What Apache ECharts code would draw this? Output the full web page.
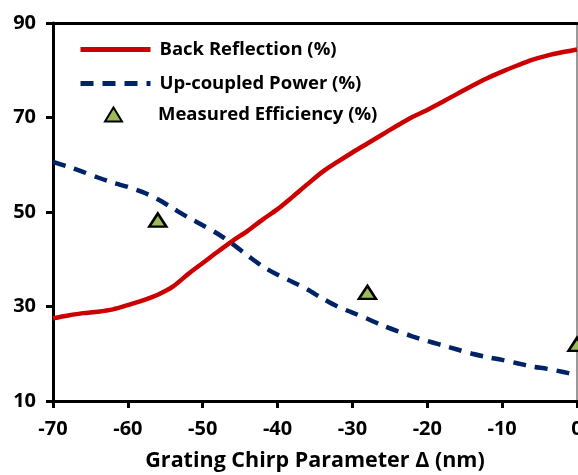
<!DOCTYPE html>
<html>
<head>
<meta charset="utf-8">
<script src="https://cdn.jsdelivr.net/npm/echarts@6/dist/echarts.min.js"></script>
<style>
html,body{margin:0;padding:0;background:#fff;}
#c{width:578px;height:475px;}
</style>
</head>
<body>
<div id="c"></div>
<script>
var chirp = [-70,-68,-66,-64,-62,-60,-58,-56,-54,-52,-50,-48,-46,-44,-42,-40,-38,-36,-34,-32,-30,-28,-26,-24,-22,-20,-18,-16,-14,-12,-10,-8,-6,-4,-2,0];
var backReflection = [27.5,28.1,28.6,28.9,29.4,30.3,31.3,32.5,34.2,36.8,39.2,41.6,43.9,46.0,48.4,50.6,53.2,55.9,58.5,60.6,62.6,64.5,66.4,68.3,70.1,71.6,73.3,75.0,76.7,78.3,79.7,81.0,82.2,83.1,83.8,84.4];
var upCoupled = [60.6,59.6,58.5,57.3,56.2,55.3,54.2,52.7,50.8,48.9,47.2,45.4,43.2,40.8,38.5,36.7,35.2,33.6,31.7,30.0,28.7,27.4,26.0,24.8,23.7,22.7,21.8,20.9,20.0,19.3,18.7,18.0,17.3,16.8,16.2,15.5];
var measuredX = [-56,-28,0];
var measuredY = [48.3,33.0,22.0];
var seriesNames = ['Back Reflection (%)','Up-coupled Power (%)','Measured Efficiency (%)'];
var xTitle = 'Grating Chirp Parameter \u0394 (nm)';

function pairs(xs, ys){ return xs.map(function(x,i){ return [x, ys[i]]; }); }

var font = 'Open Sans';
var legendText = {fontFamily:font, fontWeight:'bold', fontSize:18.5, lineHeight:16, color:'#000'};
var chart = echarts.init(document.getElementById('c'), null, {renderer:'canvas'});
chart.setOption({
  animation:false,
  backgroundColor:'#ffffff',
  grid:{left:53, right:1, top:23, bottom:74, containLabel:false, outerBoundsMode:'none'},
  legend:[{
    orient:'vertical', left:78, top:40, padding:0, itemWidth:70, itemHeight:16, itemGap:15,
    data:[
      {name:seriesNames[0], itemStyle:{opacity:0}, lineStyle:{width:5}},
      {name:seriesNames[1], itemStyle:{opacity:0}, lineStyle:{width:5}}
    ],
    textStyle:Object.assign({padding:[0,0,0,4]}, legendText)
  },{
    orient:'vertical', left:104, top:105, padding:0, itemWidth:17, itemHeight:14,
    data:[seriesNames[2]],
    textStyle:Object.assign({padding:[0,0,0,31]}, legendText)
  }],
  xAxis:[{
    type:'value', min:-70, max:0, interval:10, position:'bottom',
    name:xTitle, nameLocation:'middle', nameGap:49,
    nameTextStyle:{fontFamily:font, fontWeight:'bold', fontSize:21.5, color:'#000'},
    axisLine:{show:true, onZero:false, lineStyle:{color:'#000', width:3}},
    axisTick:{show:true, length:7, lineStyle:{color:'#000', width:3}},
    axisLabel:{fontFamily:font, fontWeight:'bold', fontSize:20, color:'#000', margin:18},
    splitLine:{show:false}
  },{
    type:'value', min:-70, max:0, position:'top',
    axisLine:{show:true, onZero:false, lineStyle:{color:'#000', width:3}},
    axisTick:{show:false}, axisLabel:{show:false}, splitLine:{show:false}
  }],
  yAxis:[{
    type:'value', min:10, max:90, interval:20, position:'left',
    axisLine:{show:true, onZero:false, lineStyle:{color:'#000', width:3}},
    axisTick:{show:true, length:7, lineStyle:{color:'#000', width:3}},
    axisLabel:{fontFamily:font, fontWeight:'bold', fontSize:20, color:'#000', margin:17},
    splitLine:{show:false}
  },{
    type:'value', min:10, max:90, position:'right',
    axisLine:{show:true, onZero:false, lineStyle:{color:'#777', width:1.5}},
    axisTick:{show:false}, axisLabel:{show:false}, splitLine:{show:false}
  }],
  series:[{
    name:seriesNames[0], type:'line', data:pairs(chirp, backReflection),
    smooth:0.3, symbol:'none', showSymbol:false,
    lineStyle:{color:'#CC0000', width:4.5},
    itemStyle:{color:'#CC0000'}, z:3
  },{
    name:seriesNames[1], type:'line', data:pairs(chirp, upCoupled),
    smooth:0.3, symbol:'none', showSymbol:false,
    lineStyle:{color:'#002366', width:4.5, type:[13,9]},
    itemStyle:{color:'#002366'}, z:3
  },{
    name:seriesNames[2], type:'scatter', data:pairs(measuredX, measuredY),
    symbol:'triangle', symbolSize:[17,13],
    itemStyle:{color:'#9BBB59', borderColor:'#000', borderWidth:2.5, opacity:1}, z:4
  }]
});
</script>
</body>
</html>
